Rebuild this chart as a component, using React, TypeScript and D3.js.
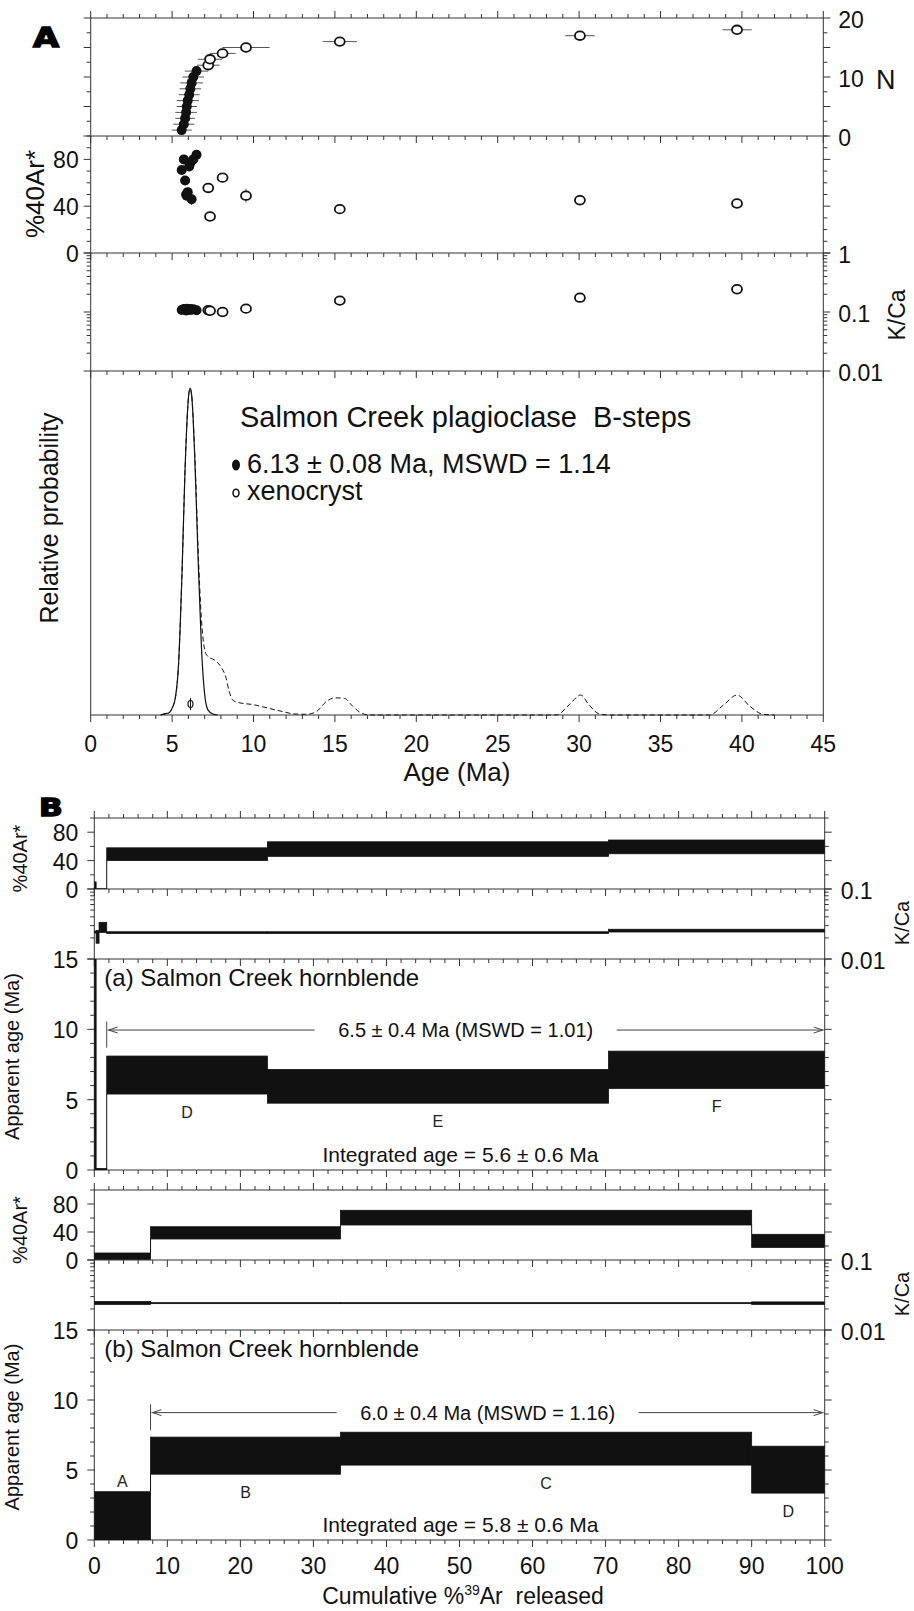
import React from 'react';
import * as d3 from 'd3';

const FONT = "'Liberation Sans', Arial, Helvetica, sans-serif";
const INK = '#111';
const LINE = '#333';

// ---------- A: single crystal plagioclase (Salmon Creek, B-steps) ----------
// plateau (filled) crystals, ages in Ma, sorted
const plateauAges = [5.59, 5.72, 5.8, 5.86, 5.9, 5.96, 6.05, 6.12, 6.2, 6.3, 6.5];
const plateauAgeErr = [0.62, 0.65, 0.6, 0.66, 0.62, 0.68, 0.64, 0.66, 0.7, 0.66, 0.72];
const plateauRad = [71, 80, 62, 50, 49, 52, 74, 77, 46, 80, 84];
const plateauRadErr = [3, 4, 3, 3, 3, 4, 4, 3, 5, 3, 4];
const plateauKCa = [0.108, 0.112, 0.11, 0.106, 0.113, 0.11, 0.108, 0.112, 0.109, 0.111, 0.107];
// xenocrysts (open)
const xenoAges = [7.22, 7.33, 8.1, 9.54, 15.3, 30.05, 39.7];
const xenoAgeErr = [0.7, 0.75, 0.8, 1.45, 1.05, 0.9, 0.9];
const xenoRad = [55.6, 31.2, 64.4, 49, 37.5, 45.1, 42.3];
const xenoRadErr = [4, 3, 3, 6, 3, 2, 2];
const xenoKCa = [0.107, 0.105, 0.1, 0.114, 0.156, 0.175, 0.243];

// relative probability curves [age, prob]
const probPlateau: [number, number][] = [
  [4.3, 0], [4.6, 0.004], [4.8, 0.006], [5.0, 0.02], [5.2, 0.05], [5.4, 0.15], [5.6, 0.4],
  [5.8, 0.72], [6.0, 0.92], [6.1, 0.95], [6.2, 0.93], [6.4, 0.74], [6.6, 0.45], [6.8, 0.2],
  [7.0, 0.06], [7.2, 0.015], [7.5, 0.003], [7.8, 0],
];
const probAll: [number, number][] = [
  [4.3, 0], [4.6, 0.004], [4.8, 0.006], [5.0, 0.02], [5.2, 0.05], [5.4, 0.15], [5.6, 0.4],
  [5.8, 0.72], [6.0, 0.92], [6.1, 0.95], [6.2, 0.93], [6.4, 0.75], [6.6, 0.48], [6.8, 0.28],
  [7.0, 0.19], [7.2, 0.17], [7.6, 0.16], [8.0, 0.14], [8.3, 0.11], [8.5, 0.07], [8.75, 0.042],
  [9.1, 0.036], [10.0, 0.03], [10.9, 0.02], [11.8, 0.01], [12.5, 0.003], [13.2, 0.002],
  [13.8, 0.008], [14.5, 0.04], [15.0, 0.05], [15.6, 0.048], [16.1, 0.025], [16.7, 0.004],
  [17.2, 0], [28.6, 0], [29.4, 0.03], [30.1, 0.058], [30.6, 0.03], [31.3, 0.002], [32, 0],
  [38, 0], [38.9, 0.03], [39.7, 0.058], [40.5, 0.025], [41.3, 0.002], [42, 0],
];
const meanAge = 6.13;
const meanProb = 0.032;

// ---------- B: hornblende step heating ----------
// (a)
const edgesHbA = [0, 0.25, 0.65, 1.7, 23.7, 70.4, 100];
const labelsHbA = ['', '', '', 'D', 'E', 'F'];
const radHbA = [[0, 10], [0, 0.3], [0, 0.3], [40, 58], [46, 66.5], [49.6, 69]];
const kcaHbA = [[0.0235, 0.025], [0.0168, 0.0255], [0.024, 0.0334], [0.0232, 0.0245], [0.0232, 0.0245], [0.0243, 0.0266]];
const ageHbA = [[-10, 30], [0, 0.1], [0, 0.1], [5.4, 8.1], [4.75, 7.15], [5.8, 8.45]];
const plateauHbA = [1.7, 100, 9.95];
// (b)
const edgesHbB = [0, 7.7, 33.7, 90, 100];
const labelsHbB = ['A', 'B', 'C', 'D'];
const radHbB = [[1, 10], [30, 47.5], [50, 71], [18, 36.7]];
const kcaHbB = [[0.0232, 0.0255], [0.0238, 0.0246], [0.0238, 0.0246], [0.0232, 0.0252]];
const ageHbB = [[-2, 3.45], [4.7, 7.35], [5.35, 7.7], [3.35, 6.7]];
const plateauHbB = [7.7, 100, 9.1];

const TICK_FS = 23;
const NB = '\u00a0';

function XTicks({ scale, values, y, dir, majorEvery }: any) {
  return (
    <g stroke={LINE} strokeWidth={1}>
      {values.map((v: number) => {
        const len = Math.abs(v % majorEvery) < 1e-9 ? 7 : 4;
        const x = scale(v);
        return <line key={v} x1={x} x2={x} y1={y} y2={y + dir * len} />;
      })}
    </g>
  );
}

function YTicks({ scale, values, x0, x1, isMajor }: any) {
  return (
    <g stroke={LINE} strokeWidth={1}>
      {values.map((v: number, i: number) => {
        const y = scale(v);
        const len = isMajor(v) ? 7 : 4;
        return (
          <g key={i}>
            <line x1={x0} x2={x0 - len} y1={y} y2={y} />
            <line x1={x1} x2={x1 + len} y1={y} y2={y} />
          </g>
        );
      })}
    </g>
  );
}

const isDecade = (v: number) => Math.abs(Math.log10(v) - Math.round(Math.log10(v))) < 1e-6;

function Steps({ id, edges, bands, x, y, x0, x1, y0, y1 }: any) {
  return (
    <g>
      <clipPath id={id}>
        <rect x={x0} y={y0} width={x1 - x0} height={y1 - y0} />
      </clipPath>
      <g clipPath={`url(#${id})`}>
        {bands.map((b: number[], i: number) => {
          const xa = x(edges[i]);
          const xb = x(edges[i + 1]);
          const yt = y(b[1]);
          const yb = y(b[0]);
          return (
            <rect key={i} x={xa} y={yt} width={xb - xa} height={Math.max(yb - yt, 0.6)}
              fill={INK} stroke={INK} strokeWidth={0.8} />
          );
        })}
        {bands.map((b: number[], i: number) => {
          if (i === 0) return null;
          const p = bands[i - 1];
          const xe = x(edges[i]);
          if (b[0] > p[1]) return <line key={'c' + i} x1={xe} x2={xe} y1={y(p[1])} y2={y(b[0])} stroke={INK} strokeWidth={1} />;
          if (b[1] < p[0]) return <line key={'c' + i} x1={xe} x2={xe} y1={y(b[1])} y2={y(p[0])} stroke={INK} strokeWidth={1} />;
          return null;
        })}
      </g>
    </g>
  );
}

function Block(props: any) {
  const { tag, bx, ys, edges, labels, rad, kca, age, plateau, plateauText, integratedText, title } = props;
  const [yT, yK, yA, yB] = ys;
  const x0 = bx.range()[0];
  const x1 = bx.range()[1];
  const yRad = d3.scaleLinear().domain([0, 100]).range([yK, yT]);
  const yKCa = d3.scaleLog().domain([0.01, 0.1]).range([yA, yK]);
  const yAge = d3.scaleLinear().domain([0, 15]).range([yB, yA]);
  const xv = d3.range(0, 101, 2);
  const pl = yAge(plateau[2]);
  const pxa = bx(plateau[0]);
  const pxb = bx(plateau[1]);
  const pmid = (pxa + pxb) / 2;
  const half = (plateauText.length * 20 * 0.55) / 2 + 8;
  return (
    <g>
      {/* frames */}
      <g fill="none" stroke={LINE} strokeWidth={1}>
        <rect x={x0} y={yT} width={x1 - x0} height={yB - yT} />
        <line x1={x0} x2={x1} y1={yK} y2={yK} />
        <line x1={x0} x2={x1} y1={yA} y2={yA} />
      </g>
      <XTicks scale={bx} values={xv} y={yT} dir={-1} majorEvery={10} />
      <XTicks scale={bx} values={xv} y={yK} dir={1} majorEvery={10} />
      <XTicks scale={bx} values={xv} y={yA} dir={1} majorEvery={10} />
      <XTicks scale={bx} values={xv} y={yB} dir={1} majorEvery={10} />
      <YTicks scale={yRad} values={d3.range(0, 101, 20)} x0={x0} x1={x1} isMajor={(v: number) => v % 40 === 0} />
      <YTicks scale={yKCa} values={yKCa.ticks()} x0={x0} x1={x1} isMajor={isDecade} />
      <YTicks scale={yAge} values={d3.range(0, 16, 1)} x0={x0} x1={x1} isMajor={(v: number) => v % 5 === 0} />

      <Steps id={tag + 'r'} edges={edges} bands={rad} x={bx} y={yRad} x0={x0} x1={x1} y0={yT} y1={yK} />
      <Steps id={tag + 'k'} edges={edges} bands={kca} x={bx} y={yKCa} x0={x0} x1={x1} y0={yK} y1={yA} />
      <Steps id={tag + 'a'} edges={edges} bands={age} x={bx} y={yAge} x0={x0} x1={x1} y0={yA} y1={yB} />

      {/* step letters */}
      <g fontSize={16} fill="#222" textAnchor="middle">
        {labels.map((l: string, i: number) => {
          if (!l) return null;
          const b = age[i];
          const v = b[0] > 1.8 ? b[0] - 1.3 : b[1] + 0.7;
          return (
            <text key={i} x={bx((edges[i] + edges[i + 1]) / 2)} y={yAge(v)} dominantBaseline="central">{l}</text>
          );
        })}
      </g>

      {/* plateau */}
      <g stroke="#444" strokeWidth={1} fill="none">
        <line x1={pxa} x2={pxa} y1={yAge(plateau[2] + 0.6)} y2={yAge(plateau[2] - 1.25)} />
        <line x1={pxa + 1} x2={pmid - half} y1={pl} y2={pl} />
        <line x1={pmid + half} x2={pxb - 1} y1={pl} y2={pl} />
        <polyline points={`${pxa + 11},${pl - 3} ${pxa + 2},${pl} ${pxa + 11},${pl + 3}`} />
        <polyline points={`${pxb - 11},${pl - 3} ${pxb - 2},${pl} ${pxb - 11},${pl + 3}`} />
      </g>
      <text x={pmid} y={pl} fontSize={20} textAnchor="middle" dominantBaseline="central" fill={INK}>{plateauText}</text>
      <text x={(x0 + x1) / 2 + 1} y={yB - 8} fontSize={21} textAnchor="middle" fill={INK}>{integratedText}</text>
      <text x={x0 + 10} y={yA + 27} fontSize={24} fill={INK}>{title}</text>

      {/* left labels */}
      <g fontSize={TICK_FS} textAnchor="end" fill={INK} dominantBaseline="central">
        {[80, 40, 0].map((v) => <text key={'r' + v} x={x0 - 16} y={yRad(v) + 1}>{v}</text>)}
        {[15, 10, 5, 0].map((v) => <text key={'a' + v} x={x0 - 16} y={yAge(v) + 1}>{v}</text>)}
      </g>
      <g fontSize={TICK_FS} fill={INK} dominantBaseline="central">
        <text x={x1 + 16} y={yK + 2}>0.1</text>
        <text x={x1 + 16} y={yA + 2}>0.01</text>
      </g>
      <g fontSize={20} fill={INK} textAnchor="middle">
        <text transform={`translate(27,${(yT + yK) / 2 + 5}) rotate(-90)`}>%40Ar*</text>
        <text transform={`translate(909,${(yK + yA) / 2 - 1}) rotate(-90)`}>K/Ca</text>
        <text transform={`translate(19,${(yA + yB) / 2 - 8}) rotate(-90)`}>Apparent age (Ma)</text>
      </g>
    </g>
  );
}

export default function App() {
  // panel A scales
  const ax = d3.scaleLinear().domain([0, 45]).range([90.7, 823.3]);
  const yN = d3.scaleLinear().domain([0, 20]).range([136, 18]);
  const yRadA = d3.scaleLinear().domain([0, 100]).range([253, 136]);
  const yKA = d3.scaleLog().domain([0.01, 1]).range([371, 253]);
  const yP = d3.scaleLinear().domain([0, 1]).range([715, 371]);
  const [L, R] = ax.range();

  const line = d3.line<[number, number]>().x((d) => ax(d[0])).y((d) => yP(d[1])).curve(d3.curveMonotoneX);
  const xa = d3.range(0, 46, 1);

  // panel B scale
  const bx = d3.scaleLinear().domain([0, 100]).range([94.3, 824.7]);

  const nPlateau = plateauAges.map((_, i) => i + 1);
  const nXeno = xenoAges.map((_, i) => plateauAges.length + i + 1);

  return (
    <div style={{ position: 'absolute', left: 0, top: 0 }}>
      <svg width={914} height={1611} style={{ display: 'block', background: '#fff' }} fontFamily={FONT}>
        {/* ================= A ================= */}
        <text transform="translate(33,47) scale(1.25,1)" fontFamily="'DejaVu Sans', sans-serif" fontWeight="bold"
          fontSize={27} fill="#000" stroke="#000" strokeWidth={1.4}>A</text>

        <g fill="none" stroke={LINE} strokeWidth={1}>
          <rect x={L} y={18} width={R - L} height={715 - 18} />
          <line x1={L} x2={R} y1={136} y2={136} />
          <line x1={L} x2={R} y1={253} y2={253} />
          <line x1={L} x2={R} y1={371} y2={371} />
        </g>
        <XTicks scale={ax} values={xa} y={18} dir={-1} majorEvery={5} />
        <XTicks scale={ax} values={xa} y={136} dir={1} majorEvery={5} />
        <XTicks scale={ax} values={xa} y={253} dir={1} majorEvery={5} />
        <XTicks scale={ax} values={xa} y={371} dir={1} majorEvery={5} />
        <XTicks scale={ax} values={xa} y={715} dir={1} majorEvery={5} />
        <YTicks scale={yN} values={d3.range(0, 20.1, 2.5)} x0={L} x1={R} isMajor={(v: number) => v % 5 === 0} />
        <YTicks scale={yRadA} values={d3.range(0, 101, 10)} x0={L} x1={R} isMajor={(v: number) => v % 40 === 0} />
        <YTicks scale={yKA} values={yKA.ticks()} x0={L} x1={R} isMajor={isDecade} />

        {/* N vs age */}
        <g stroke="#555" strokeWidth={1}>
          {plateauAges.map((a, i) => (
            <line key={'pe' + i} x1={ax(a - plateauAgeErr[i])} x2={ax(a + plateauAgeErr[i])} y1={yN(nPlateau[i])} y2={yN(nPlateau[i])} />
          ))}
          {xenoAges.map((a, i) => (
            <line key={'xe' + i} x1={ax(a - xenoAgeErr[i])} x2={ax(a + xenoAgeErr[i])} y1={yN(nXeno[i])} y2={yN(nXeno[i])} />
          ))}
        </g>
        {xenoAges.map((a, i) => (
          <ellipse key={'xo' + i} cx={ax(a)} cy={yN(nXeno[i])} rx={5} ry={4.3} fill="#fff" stroke={INK} strokeWidth={1.8} />
        ))}
        {plateauAges.map((a, i) => (
          <circle key={'po' + i} cx={ax(a)} cy={yN(nPlateau[i])} r={5} fill={INK} />
        ))}

        {/* %40Ar* vs age */}
        <g stroke="#555" strokeWidth={1}>
          {plateauAges.map((a, i) => (
            <line key={'re' + i} x1={ax(a)} x2={ax(a)} y1={yRadA(plateauRad[i] - plateauRadErr[i])} y2={yRadA(plateauRad[i] + plateauRadErr[i])} />
          ))}
          {xenoAges.map((a, i) => (
            <line key={'rx' + i} x1={ax(a)} x2={ax(a)} y1={yRadA(xenoRad[i] - xenoRadErr[i])} y2={yRadA(xenoRad[i] + xenoRadErr[i])} />
          ))}
        </g>
        {xenoAges.map((a, i) => (
          <ellipse key={'ro' + i} cx={ax(a)} cy={yRadA(xenoRad[i])} rx={5} ry={4.3} fill="#fff" stroke={INK} strokeWidth={1.8} />
        ))}
        {plateauAges.map((a, i) => (
          <circle key={'rp' + i} cx={ax(a)} cy={yRadA(plateauRad[i])} r={5} fill={INK} />
        ))}

        {/* K/Ca vs age */}
        {xenoAges.map((a, i) => (
          <ellipse key={'ko' + i} cx={ax(a)} cy={yKA(xenoKCa[i])} rx={5} ry={4.3} fill="#fff" stroke={INK} strokeWidth={1.8} />
        ))}
        {plateauAges.map((a, i) => (
          <circle key={'kp' + i} cx={ax(a)} cy={yKA(plateauKCa[i])} r={5} fill={INK} />
        ))}

        {/* probability */}
        <path d={line(probAll) || ''} fill="none" stroke={INK} strokeWidth={1} strokeDasharray="5,3" />
        <path d={line(probPlateau) || ''} fill="none" stroke={INK} strokeWidth={1.2} />
        <line x1={ax(meanAge)} x2={ax(meanAge)} y1={yP(meanProb) - 6} y2={yP(meanProb) + 6} stroke={INK} strokeWidth={1} />
        <ellipse cx={ax(meanAge)} cy={yP(meanProb)} rx={2.5} ry={3.5} fill="none" stroke={INK} strokeWidth={1.2} />

        <text x={240} y={427} fontSize={29} fill={INK}>{`Salmon Creek plagioclase ${NB}B-steps`}</text>
        <ellipse cx={236} cy={465} rx={4} ry={5.5} fill={INK} />
        <text x={247} y={473} fontSize={27} fill={INK}>6.13 ± 0.08 Ma, MSWD = 1.14</text>
        <ellipse cx={236} cy={493} rx={3} ry={3.8} fill="none" stroke={INK} strokeWidth={1.5} />
        <text x={247} y={500} fontSize={27} fill={INK}>xenocryst</text>

        {/* A axis labels */}
        <g fontSize={TICK_FS} fill={INK} textAnchor="middle">
          {d3.range(0, 46, 5).map((v) => <text key={v} x={ax(v)} y={752}>{v}</text>)}
        </g>
        <text x={(L + R) / 2} y={781} fontSize={26} textAnchor="middle" fill={INK}>Age (Ma)</text>
        <g fontSize={TICK_FS} fill={INK} textAnchor="end" dominantBaseline="central">
          {[80, 40, 0].map((v) => <text key={v} x={L - 12} y={yRadA(v) + 1}>{v}</text>)}
        </g>
        <g fontSize={TICK_FS} fill={INK} dominantBaseline="central">
          {[20, 10, 0].map((v) => <text key={v} x={R + 15} y={yN(v) + 2}>{v}</text>)}
          {[1, 0.1, 0.01].map((v) => <text key={v} x={R + 15} y={yKA(v) + 2}>{v}</text>)}
        </g>
        <text x={876} y={yN(10) + 12} fontSize={27} fill={INK}>N</text>
        <text transform="translate(44,194) rotate(-90)" fontSize={26} textAnchor="middle" fill={INK}>%40Ar*</text>
        <text transform="translate(905,315) rotate(-90)" fontSize={23} textAnchor="middle" fill={INK}>K/Ca</text>
        <text transform="translate(58,518) rotate(-90)" fontSize={25} textAnchor="middle" fill={INK}>Relative probability</text>

        {/* ================= B ================= */}
        <text transform="translate(39,816) scale(1.3,1)" fontFamily="'DejaVu Sans', sans-serif" fontWeight="bold"
          fontSize={24} fill="#000" stroke="#000" strokeWidth={1.4}>B</text>

        <Block tag="ha" bx={bx} ys={[818, 889, 959, 1170]} edges={edgesHbA} labels={labelsHbA}
          rad={radHbA} kca={kcaHbA} age={ageHbA} plateau={plateauHbA}
          plateauText="6.5 ± 0.4 Ma (MSWD = 1.01)" integratedText="Integrated age = 5.6 ± 0.6 Ma"
          title="(a) Salmon Creek hornblende" />
        <Block tag="hb" bx={bx} ys={[1190, 1260, 1330, 1540]} edges={edgesHbB} labels={labelsHbB}
          rad={radHbB} kca={kcaHbB} age={ageHbB} plateau={plateauHbB}
          plateauText="6.0 ± 0.4 Ma (MSWD = 1.16)" integratedText="Integrated age = 5.8 ± 0.6 Ma"
          title="(b) Salmon Creek hornblende" />

        <g fontSize={TICK_FS} fill={INK} textAnchor="middle">
          {d3.range(0, 101, 10).map((v) => <text key={v} x={bx(v)} y={1574}>{v}</text>)}
        </g>
        <text x={463} y={1604} fontSize={23} textAnchor="middle" fill={INK}>
          Cumulative %<tspan fontSize={14} dy={-9}>39</tspan><tspan dy={9}>{`Ar ${NB}released`}</tspan>
        </text>
      </svg>
    </div>
  );
}
